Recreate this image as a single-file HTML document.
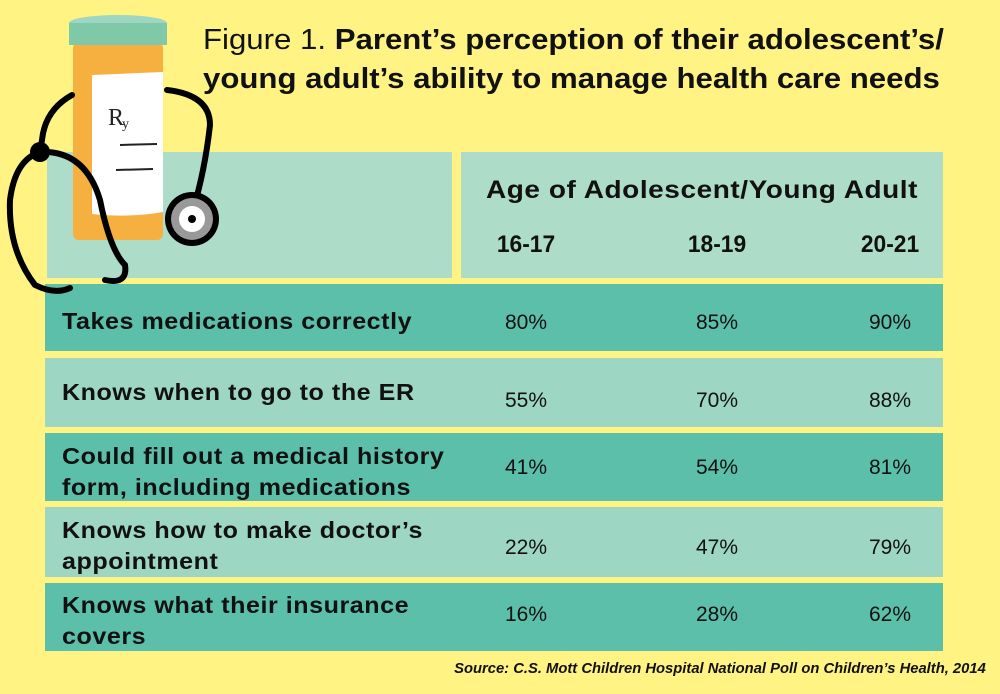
<!DOCTYPE html>
<html><head><style>
body{margin:0;width:1000px;height:694px;background:#FFF383;font-family:"Liberation Sans",sans-serif;position:relative;overflow:hidden}
.a{position:absolute}
.hdr{background:#ADDCC8}
.d{background:#5BBFAA}
.l{background:#9DD6C2}
.row{position:absolute;left:45px;width:898px}
.lab{position:absolute;left:17px;font-weight:bold;font-size:23px;letter-spacing:0.5px;color:#111;line-height:31px;white-space:nowrap;transform:scaleX(1.09);transform-origin:left}
.v{position:absolute;font-size:21px;color:#111;width:80px;text-align:center;margin-left:-40px}
.c{position:absolute;top:231px;font-weight:bold;font-size:24px;color:#111;width:80px;text-align:center;transform:scaleX(0.95)}
</style></head><body>
<div class="a hdr" style="left:47px;top:152px;width:405px;height:126px"></div>
<div class="a hdr" style="left:461px;top:152px;width:482px;height:126px"></div>
<div class="a" style="left:461px;top:176px;width:482px;text-align:center;font-weight:bold;font-size:25px;letter-spacing:0.5px;color:#111;white-space:nowrap;transform:scaleX(1.12)">Age of Adolescent/Young Adult</div>
<div class="c" style="left:486px">16-17</div>
<div class="c" style="left:677px">18-19</div>
<div class="c" style="left:850px">20-21</div>

<div class="row d" style="top:284px;height:67px"><div class="lab" style="top:22px">Takes medications correctly</div><div class="v" style="left:481px;top:27px">80%</div><div class="v" style="left:672px;top:27px">85%</div><div class="v" style="left:845px;top:27px">90%</div></div>
<div class="row l" style="top:358px;height:69px"><div class="lab" style="top:19px">Knows when to go to the ER</div><div class="v" style="left:481px;top:31px">55%</div><div class="v" style="left:672px;top:31px">70%</div><div class="v" style="left:845px;top:31px">88%</div></div>
<div class="row d" style="top:433px;height:68px"><div class="lab" style="top:8px">Could fill out a medical history<br>form, including medications</div><div class="v" style="left:481px;top:23px">41%</div><div class="v" style="left:672px;top:23px">54%</div><div class="v" style="left:845px;top:23px">81%</div></div>
<div class="row l" style="top:507px;height:70px"><div class="lab" style="top:8px">Knows how to make doctor’s<br>appointment</div><div class="v" style="left:481px;top:29px">22%</div><div class="v" style="left:672px;top:29px">47%</div><div class="v" style="left:845px;top:29px">79%</div></div>
<div class="row d" style="top:583px;height:68px"><div class="lab" style="top:7px">Knows what their insurance<br>covers</div><div class="v" style="left:481px;top:20px">16%</div><div class="v" style="left:672px;top:20px">28%</div><div class="v" style="left:845px;top:20px">62%</div></div>

<div class="a" style="left:203px;top:21px;font-size:29px;color:#111;line-height:39px;white-space:nowrap;transform:scaleX(1.075);transform-origin:left">Figure 1. <b>Parent’s perception of their adolescent’s/</b><br><b>young adult’s ability to manage health care needs</b></div>
<div class="a" style="right:14px;top:660px;font-size:15px;font-weight:bold;font-style:italic;color:#111;white-space:nowrap;transform:scaleX(0.985);transform-origin:right">Source: C.S. Mott Children Hospital National Poll on Children’s Health, 2014</div>

<svg class="a" style="left:0;top:0" width="250" height="300">
<rect x="73" y="42" width="90" height="198" rx="6" fill="#F6B040"/>
<ellipse cx="118" cy="23" rx="49" ry="8" fill="#9DD6C2"/>
<rect x="69" y="23" width="98" height="22" fill="#80C9A8"/>
<path d="M92 75 L163 72 L163 212 Q130 218 92 214 Z" fill="#fff"/>
<text x="108" y="125" font-family="Liberation Serif" font-size="24" fill="#222">R</text>
<text x="122" y="128" font-family="Liberation Serif" font-size="14" fill="#222">y</text>
<line x1="120" y1="145" x2="157" y2="144" stroke="#222" stroke-width="2"/>
<line x1="116" y1="170" x2="153" y2="169" stroke="#222" stroke-width="2"/>
<g fill="none" stroke="#000" stroke-width="6" stroke-linecap="round">
<path d="M72 95 Q45 110 42 140 L40 152"/>
<path d="M40 152 Q15 160 10 200 Q8 250 35 285 Q55 295 70 288"/>
<path d="M40 152 Q85 150 100 200 Q110 250 125 265 Q128 285 105 280"/>
<path d="M167 90 Q210 95 210 125 Q205 170 193 210"/>
</g>
<circle cx="40" cy="152" r="10" fill="#000"/>
<circle cx="192" cy="219" r="27" fill="#000"/>
<circle cx="192" cy="219" r="21" fill="#999"/>
<circle cx="192" cy="219" r="13" fill="#fff"/>
<circle cx="192" cy="219" r="4" fill="#000"/>
</svg>
</body></html>
